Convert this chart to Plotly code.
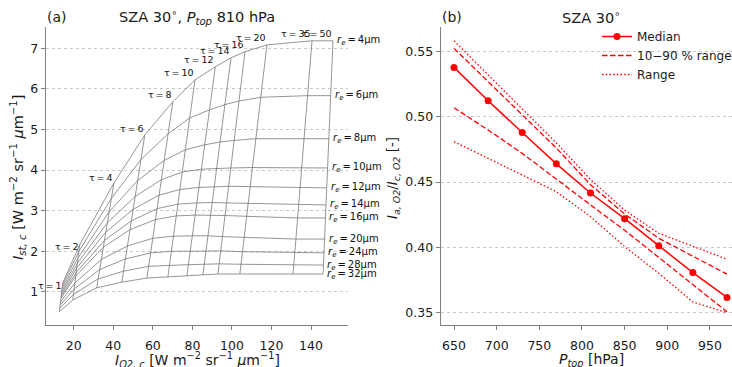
import plotly.graph_objects as go

# ---------------- data: panel (a) LUT grid ----------------
tau = [1, 2, 4, 6, 8, 10, 12, 14, 16, 20, 35, 50]
r_eff = [4, 6, 8, 10, 12, 14, 16, 20, 24, 28, 32]

# I_O2,c per r_e row (columns follow tau)
i_o2 = [
    [14.4, 23.0, 40.3, 55.9, 70.1, 81.3, 91.6, 99.5, 106.6, 117.7, 140.5, 151.1],
    [14.2, 22.6, 39.0, 54.0, 67.7, 78.6, 88.6, 96.5, 103.6, 114.6, 138.2, 149.9],
    [14.1, 22.2, 37.9, 52.3, 65.8, 76.5, 86.2, 94.0, 101.2, 112.1, 136.5, 149.0],
    [13.9, 21.9, 37.0, 51.1, 64.3, 74.9, 84.6, 92.3, 99.5, 110.4, 135.3, 148.4],
    [13.8, 21.5, 36.2, 50.0, 63.1, 73.7, 83.3, 91.1, 98.3, 109.2, 134.4, 148.0],
    [13.6, 21.3, 35.6, 49.2, 62.2, 72.7, 82.2, 90.0, 97.3, 108.2, 133.7, 147.6],
    [13.5, 21.0, 35.0, 48.4, 61.3, 71.8, 81.4, 89.2, 96.5, 107.5, 133.2, 147.3],
    [13.3, 20.6, 34.0, 47.1, 60.0, 70.4, 80.0, 87.8, 95.2, 106.2, 132.3, 146.9],
    [13.1, 20.2, 33.1, 46.1, 58.9, 69.4, 78.9, 86.9, 94.3, 105.3, 131.8, 146.6],
    [12.9, 19.9, 32.3, 45.2, 57.9, 68.4, 78.0, 86.0, 93.5, 104.6, 131.3, 146.3],
    [12.7, 19.5, 31.6, 44.3, 57.0, 67.6, 77.2, 85.3, 92.9, 104.0, 130.9, 146.1],
]
# I_st,c per r_e row (columns follow tau)
i_st = [
    [1.22, 2.16, 3.68, 4.86, 5.68, 6.22, 6.54, 6.76, 6.91, 7.08, 7.18, 7.18],
    [1.15, 2.00, 3.30, 4.26, 4.89, 5.28, 5.48, 5.61, 5.70, 5.79, 5.83, 5.83],
    [1.08, 1.84, 2.97, 3.74, 4.24, 4.50, 4.62, 4.69, 4.73, 4.77, 4.77, 4.77],
    [1.01, 1.71, 2.70, 3.35, 3.76, 3.95, 4.02, 4.04, 4.05, 4.06, 4.05, 4.05],
    [0.95, 1.59, 2.47, 3.03, 3.38, 3.52, 3.57, 3.59, 3.60, 3.59, 3.56, 3.56],
    [0.89, 1.48, 2.27, 2.75, 3.05, 3.16, 3.19, 3.20, 3.19, 3.18, 3.14, 3.14],
    [0.84, 1.39, 2.10, 2.53, 2.78, 2.87, 2.89, 2.89, 2.88, 2.86, 2.82, 2.82],
    [0.75, 1.22, 1.80, 2.13, 2.32, 2.37, 2.38, 2.38, 2.36, 2.34, 2.30, 2.30],
    [0.67, 1.07, 1.55, 1.81, 1.96, 2.00, 2.00, 2.01, 2.01, 1.99, 1.96, 1.96],
    [0.59, 0.94, 1.32, 1.51, 1.63, 1.66, 1.67, 1.68, 1.69, 1.68, 1.66, 1.66],
    [0.51, 0.80, 1.10, 1.24, 1.34, 1.37, 1.39, 1.42, 1.44, 1.44, 1.44, 1.44],
]
x_ticks_a = [20, 40, 60, 80, 100, 120, 140]
y_ticks_a = [1, 2, 3, 4, 5, 6, 7]

# ---------------- data: panel (b) ----------------
p_top = [650, 690, 730, 770, 810, 850, 890, 930, 970]
ratio_median = [0.538, 0.5124, 0.488, 0.464, 0.4416, 0.4219, 0.4012, 0.3805, 0.3615]
ratio_p10 = [0.507, 0.490, 0.472, 0.452, 0.4325, 0.413, 0.392, 0.3713, 0.3505]
ratio_p90 = [0.5526, 0.527, 0.5016, 0.4761, 0.448, 0.4255, 0.4069, 0.3928, 0.3793]
ratio_min = [0.481, 0.468, 0.455, 0.4426, 0.4235, 0.4005, 0.380, 0.358, 0.3497]
ratio_max = [0.5584, 0.532, 0.506, 0.480, 0.452, 0.4285, 0.4107, 0.4005, 0.3908]
x_ticks_b = [650, 700, 750, 800, 850, 900, 950]
y_ticks_b = [0.35, 0.40, 0.45, 0.50, 0.55]

# ---------------- layout helpers ----------------
W, H = 732, 367
FONT = "DejaVu Sans"
def fx(p):
    return p / W
def fy(p):
    return 1 - p / H

GRIDC = "#7a7a7a"
fig = go.Figure()

# r_e curves
for row_x, row_y in zip(i_o2, i_st):
    fig.add_trace(go.Scatter(x=row_x, y=row_y, mode="lines", showlegend=False,
                             line=dict(color=GRIDC, width=0.8), hoverinfo="skip",
                             xaxis="x", yaxis="y"))
# tau curves
for j in range(len(tau)):
    fig.add_trace(go.Scatter(x=[r[j] for r in i_o2], y=[r[j] for r in i_st], mode="lines",
                             showlegend=False, line=dict(color=GRIDC, width=0.8),
                             hoverinfo="skip", xaxis="x", yaxis="y"))

RED = "#ff0000"
fig.add_trace(go.Scatter(x=p_top, y=ratio_median, mode="lines+markers", name="Median",
                         line=dict(color=RED, width=1.5), marker=dict(size=7, color=RED),
                         xaxis="x2", yaxis="y2"))
fig.add_trace(go.Scatter(x=p_top, y=ratio_p90, mode="lines", name="10\u221290 % range",
                         legendgroup="pct", line=dict(color=RED, width=1.3, dash="5.5px,2.5px"),
                         xaxis="x2", yaxis="y2"))
fig.add_trace(go.Scatter(x=p_top, y=ratio_p10, mode="lines", name="10\u221290 % range",
                         legendgroup="pct", showlegend=False,
                         line=dict(color=RED, width=1.3, dash="5.5px,2.5px"),
                         xaxis="x2", yaxis="y2"))
fig.add_trace(go.Scatter(x=p_top, y=ratio_max, mode="lines", name="Range",
                         legendgroup="rng", line=dict(color=RED, width=1.3, dash="1.5px,2.2px"),
                         xaxis="x2", yaxis="y2"))
fig.add_trace(go.Scatter(x=p_top, y=ratio_min, mode="lines", name="Range",
                         legendgroup="rng", showlegend=False,
                         line=dict(color=RED, width=1.3, dash="1.5px,2.2px"),
                         xaxis="x2", yaxis="y2"))

annotations = []
# tau labels at the r_e = 4 curve
tau_yshift = [-3, -2, 6, 7, 7, 7, 7, 7, 7, 7, 7, 7]
for j, t in enumerate(tau):
    annotations.append(dict(x=i_o2[0][j], y=i_st[0][j], xref="x", yref="y",
                            text="\u03c4\u2009=\u2009%d" % t, showarrow=False,
                            xanchor="right", yanchor="middle", yshift=tau_yshift[j], xshift=1,
                            font=dict(family=FONT, size=9.5, color="#111")))
# r_e labels at the tau = 50 end
for i, r in enumerate(r_eff):
    annotations.append(dict(x=i_o2[i][-1], y=i_st[i][-1], xref="x", yref="y",
                            text="<i>r<sub>e</sub></i>\u2009=\u2009%d\u03bcm" % r, showarrow=False,
                            xanchor="left", yanchor="middle", xshift=2,
                            font=dict(family=FONT, size=10, color="#111")))

TXT = "#1a1a1a"
def paper_text(x, y, text, size, xanchor="center", angle=0):
    annotations.append(dict(x=fx(x), y=fy(y), xref="paper", yref="paper", text=text,
                            showarrow=False, xanchor=xanchor, yanchor="middle", textangle=angle,
                            font=dict(family=FONT, size=size, color=TXT)))

paper_text(45, 17, "(a)", 14, xanchor="left")
paper_text(197, 17, "SZA 30<sup>\u2218</sup>, <i>P<sub>top</sub></i> 810 hPa", 14.5)
paper_text(440, 17, "(b)", 14, xanchor="left")
paper_text(591, 17, "SZA 30<sup>\u2218</sup>", 14.5)
paper_text(197, 360, "<i>I<sub>O2, c</sub></i> [W m<sup>\u22122</sup> sr<sup>\u22121</sup> <i>\u03bc</i>m<sup>\u22121</sup>]", 14)
paper_text(18, 178, "<i>I<sub>st, c</sub></i> [W m<sup>\u22122</sup> sr<sup>\u22121</sup> <i>\u03bc</i>m<sup>\u22121</sup>]", 14.5, angle=-90)
paper_text(591, 360, "<i>P<sub>top</sub></i> [hPa]", 14)
paper_text(393, 178, "<i>I<sub>a, O2</sub></i>/<i>I<sub>c, O2</sub></i> [-]", 13.5, angle=-90)

AX = "#808080"
common_x = dict(showline=True, linecolor=AX, linewidth=1.2, ticks="outside", ticklen=4,
                tickcolor=AX, showgrid=False, zeroline=False, automargin=False,
                ticklabelstandoff=5,
                tickfont=dict(family=FONT, size=12.5, color=TXT))
common_y = dict(showline=True, linecolor=AX, linewidth=1.2, ticks="outside", ticklen=4,
                tickcolor=AX, showgrid=True, gridcolor="#c8c8c8", gridwidth=0.8,
                griddash="dot", zeroline=False, automargin=False,
                tickfont=dict(family=FONT, size=12.5, color=TXT))

fig.update_layout(
    template="none",
    width=W, height=H,
    margin=dict(l=0, r=0, t=0, b=0, autoexpand=False),
    paper_bgcolor="white", plot_bgcolor="white",
    font=dict(family=FONT, color=TXT),
    xaxis=dict(domain=[fx(45.7), fx(348)], range=[5.8, 158.7], tickvals=x_ticks_a, **common_x),
    yaxis=dict(domain=[fy(325), fy(27)], range=[0.185, 7.52], tickvals=y_ticks_a, **common_y),
    xaxis2=dict(domain=[fx(440.7), 1.0], range=[634.4, 975.9], tickvals=x_ticks_b,
                anchor="y2", **common_x),
    yaxis2=dict(domain=[fy(325), fy(27)], range=[0.3403, 0.569], tickvals=y_ticks_b,
                tickformat=".2f", anchor="x2", **common_y),
    legend=dict(x=fx(597), y=fy(22), xanchor="left", yanchor="top",
                bgcolor="rgba(255,255,255,0)", font=dict(family=FONT, size=12, color=TXT),
                tracegroupgap=0, itemwidth=30),
    annotations=annotations,
    showlegend=True,
)

fig.write_html("out.html", config={"displayModeBar": False},
               post_script="document.body.style.margin='0px';document.body.style.overflow='hidden';")
